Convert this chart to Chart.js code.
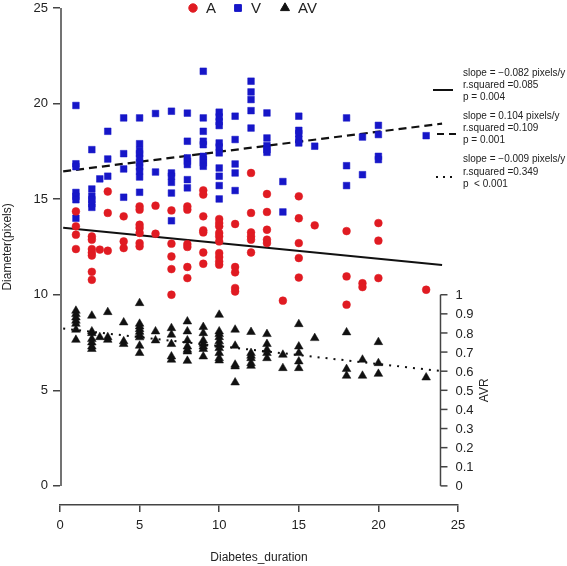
<!DOCTYPE html>
<html>
<head>
<meta charset="utf-8">
<title>Diameter vs diabetes duration</title>
<script src="https://cdn.jsdelivr.net/npm/chart.js@4.4.1/dist/chart.umd.min.js"></script>
<style>
  html, body { margin: 0; padding: 0; background: #fff; }
</style>
</head>
<body>
<canvas id="chart" width="567" height="566"></canvas>
<script>
// Data

// Artery (A) diameters
const aDur = [
  1, 1, 1, 1,
  2, 2, 2, 2, 2, 2, 2,
  2.5,
  3, 3, 3,
  4, 4, 4,
  5, 5, 5, 5, 5, 5, 5,
  6, 6,
  7, 7, 7, 7, 7,
  8, 8, 8, 8, 8, 8,
  9, 9, 9, 9, 9, 9, 9,
  10, 10, 10, 10, 10, 10, 10, 10, 10, 10,
  11, 11, 11, 11, 11,
  12, 12, 12, 12, 12, 12,
  13, 13, 13, 13, 13,
  14,
  15, 15, 15, 15, 15,
  16,
  18, 18, 18,
  19, 19,
  20, 20, 20,
  23
];
const aDiam = [
  14.36, 13.58, 13.14, 12.39,
  13.05, 12.88, 12.39, 12.2, 12.05, 11.2, 10.78,
  12.36,
  15.4, 14.28, 12.3,
  14.1, 12.79, 12.44,
  14.62, 14.45, 13.66, 13.49, 13.23, 12.7, 12.53,
  14.66, 13.19,
  14.41, 12.67, 12.0, 11.34, 10.0,
  14.62, 14.45, 12.65, 12.5, 11.45, 10.87,
  15.46, 15.24, 14.1, 13.37, 13.26, 12.21, 11.62,
  13.96, 13.75, 13.58, 13.23, 13.05, 12.79, 12.18, 11.97, 11.74, 11.57,
  13.7, 11.45, 11.17, 10.35, 10.17,
  16.37, 14.28, 13.26, 13.05, 12.88, 12.21,
  15.27, 14.33, 13.4, 12.88, 12.7,
  9.69,
  15.15, 14.0, 12.7, 11.92, 10.9,
  13.63,
  13.33, 10.96, 9.48,
  10.6, 10.4,
  13.75, 12.83, 10.87,
  10.26
];

// Vein (V) diameters
const vDur = [
  1, 1, 1, 1, 1, 1, 1,
  2, 2, 2, 2, 2, 2,
  2.5,
  3, 3, 3,
  4, 4, 4, 4,
  5, 5, 5, 5, 5, 5, 5, 5, 5, 5,
  6, 6,
  7, 7, 7, 7, 7, 7,
  8, 8, 8, 8, 8, 8, 8,
  9, 9, 9, 9, 9, 9, 9, 9, 9,
  10, 10, 10, 10, 10, 10, 10, 10, 10, 10, 10,
  11, 11, 11, 11, 11,
  12, 12, 12, 12, 12,
  13, 13, 13, 13, 13,
  14, 14,
  15, 15, 15, 15, 15,
  16,
  18, 18, 18,
  19, 19,
  20, 20, 20, 20,
  23
];
const vDiam = [
  19.9, 16.85, 16.7, 15.35, 15.15, 14.97, 14.0,
  17.59, 15.53, 15.15, 14.97, 14.76, 14.57,
  16.06,
  18.55, 17.1, 16.2,
  19.25, 17.38, 16.58, 15.1,
  19.25, 17.9, 17.55, 17.38, 17.16, 16.9, 16.69, 16.46, 16.16, 15.36,
  19.48, 16.42,
  19.6, 16.37, 16.2, 15.88, 15.32, 13.87,
  19.5, 18.03, 17.16, 16.98, 16.81, 16.02, 15.59,
  21.69, 19.25, 18.55, 18.03, 17.85, 17.24, 17.07, 16.9, 16.72,
  19.55, 19.3, 19.05, 18.85, 17.94, 17.73, 17.42, 16.63, 16.2, 15.71, 15.01,
  19.34, 18.12, 16.84, 16.37, 15.45,
  21.17, 20.61, 20.21, 19.63, 18.72,
  19.51, 18.2, 17.8, 17.59, 17.45,
  15.92, 14.33,
  19.34, 18.6, 18.43, 18.12, 17.94,
  17.77,
  19.25, 16.75, 15.71,
  18.25, 16.28,
  18.86, 18.38, 17.24, 17.07,
  18.32
];

// Artery/vein ratio (AV), right-hand AVR axis
const avDur = [
  1, 1, 1, 1, 1, 1, 1,
  2, 2, 2, 2, 2, 2, 2,
  2.5,
  3, 3, 3,
  4, 4, 4,
  5, 5, 5, 5, 5, 5, 5, 5, 5,
  6, 6,
  7, 7, 7, 7, 7,
  8, 8, 8, 8, 8, 8, 8,
  9, 9, 9, 9, 9, 9, 9,
  10, 10, 10, 10, 10, 10, 10, 10, 10, 10,
  11, 11, 11, 11, 11,
  12, 12, 12, 12, 12, 12,
  13, 13, 13, 13, 13,
  14, 14,
  15, 15, 15, 15, 15,
  16,
  18, 18, 18,
  19, 19,
  20, 20, 20,
  23
];
const avRatio = [
  0.916, 0.899, 0.881, 0.864, 0.848, 0.817, 0.764,
  0.890, 0.808, 0.799, 0.768, 0.750, 0.729, 0.716,
  0.778,
  0.909, 0.778, 0.764,
  0.855, 0.756, 0.742,
  0.956, 0.848, 0.834, 0.820, 0.806, 0.791, 0.777, 0.733, 0.695,
  0.808, 0.761,
  0.825, 0.791, 0.742, 0.677, 0.660,
  0.860, 0.808, 0.761, 0.729, 0.712, 0.703, 0.654,
  0.831, 0.799, 0.761, 0.743, 0.729, 0.716, 0.677,
  0.895, 0.808, 0.794, 0.778, 0.756, 0.738, 0.721, 0.695, 0.668, 0.656,
  0.817, 0.733, 0.634, 0.625, 0.541,
  0.805, 0.695, 0.681, 0.668, 0.642, 0.628,
  0.794, 0.742, 0.712, 0.695, 0.668,
  0.686, 0.616,
  0.846, 0.729, 0.695, 0.651, 0.616,
  0.773,
  0.803, 0.611, 0.576,
  0.660, 0.576,
  0.752, 0.642, 0.586,
  0.567
];

// Regression lines (end points)
const fitDur = [0.2, 24];
const fitA = [13.5, 11.55];
const fitV = [16.45, 18.95];
const fitAV = [0.823, 0.600];

const fitStats = [
  ['slope = \u22120.082 pixels/y', 'r.squared =0.085', 'p = 0.004'],
  ['slope = 0.104 pixels/y', 'r.squared =0.109', 'p = 0.001'],
  ['slope = \u22120.009 pixels/y', 'r.squared =0.349', 'p  < 0.001']
];

const xTicks = [0, 5, 10, 15, 20, 25];
const yTicks = [0, 5, 10, 15, 20, 25];
const avrTicks = [0, 0.1, 0.2, 0.3, 0.4, 0.5, 0.6, 0.7, 0.8, 0.9, 1];
const avrLabels = ['0', '0.1', '0.2', '0.3', '0.4', '0.5', '0.6', '0.7', '0.8', '0.9', '1'];

const seriesNames = ['A', 'V', 'AV'];

// Styles
const red = '#e01b22';
const blue = '#1616c8';
const black = '#111111';
const axisColor = '#444444';
const textColor = '#222222';
const fontFamily = "'Liberation Sans', Arial, Helvetica, sans-serif";

Chart.defaults.font.family = fontFamily;

const pts = (xs, ys) => xs.map((v, i) => ({ x: v, y: ys[i] }));

// Extra drawing: R style axes pieces, top legend, fit legend
const extras = {
  id: 'extras',
  afterDraw(chart) {
    const { ctx, chartArea, scales: { x, y, y2 } } = chart;
    ctx.save();

    // left axis line only spans 0..25
    ctx.strokeStyle = axisColor;
    ctx.lineWidth = 1.5;
    ctx.beginPath();
    ctx.moveTo(chartArea.left + 1, y.getPixelForValue(0));
    ctx.lineTo(chartArea.left + 1, y.getPixelForValue(25));
    ctx.stroke();

    // y title, centred on the 0..25 range
    ctx.save();
    ctx.fillStyle = textColor;
    ctx.font = '12px ' + fontFamily;
    ctx.textAlign = 'center';
    ctx.textBaseline = 'middle';
    ctx.translate(8, y.getPixelForValue(12.5));
    ctx.rotate(-Math.PI / 2);
    ctx.fillText('Diameter(pixels)', 0, 0);
    ctx.restore();

    // AVR axis inside the plot
    const ax = x.getPixelForValue(23.9);
    ctx.beginPath();
    ctx.moveTo(ax, y2.getPixelForValue(0));
    ctx.lineTo(ax, y2.getPixelForValue(1));
    ctx.stroke();
    ctx.fillStyle = textColor;
    ctx.font = '13px ' + fontFamily;
    ctx.textAlign = 'left';
    ctx.textBaseline = 'middle';
    avrTicks.forEach((v, i) => {
      const py = y2.getPixelForValue(v);
      ctx.beginPath();
      ctx.moveTo(ax, py);
      ctx.lineTo(ax + 7, py);
      ctx.stroke();
      ctx.fillText(avrLabels[i], ax + 15, py + 1);
    });
    ctx.save();
    ctx.translate(ax + 44, y2.getPixelForValue(0.5));
    ctx.rotate(-Math.PI / 2);
    ctx.textAlign = 'center';
    ctx.font = '12px ' + fontFamily;
    ctx.fillText('AVR', 0, 0);
    ctx.restore();

    // top legend
    const markers = [
      { style: 'circle', color: red, r: 4.2, x: 193 },
      { style: 'rect', color: blue, r: 4.8, x: 238 },
      { style: 'triangle', color: black, r: 5.2, x: 285 }
    ];
    ctx.font = '15px ' + fontFamily;
    markers.forEach((m, i) => {
      ctx.fillStyle = m.color;
      ctx.strokeStyle = m.color;
      ctx.lineWidth = 1;
      Chart.helpers.drawPoint(ctx, { pointStyle: m.style, radius: m.r, borderWidth: 1, rotation: 0 }, m.x, 8);
      ctx.fillStyle = textColor;
      ctx.fillText(seriesNames[i], m.x + 13, 9);
    });

    // fit legend
    ctx.font = '10px ' + fontFamily;
    ctx.fillStyle = textColor;
    const rowY = [[73, 85, 97], [116, 128, 140], [159, 172, 184]];
    fitStats.forEach((lines, g) => {
      lines.forEach((t, k) => ctx.fillText(t, 463, rowY[g][k]));
    });
    ctx.strokeStyle = black;
    ctx.lineWidth = 2;
    ctx.setLineDash([]);
    ctx.beginPath(); ctx.moveTo(433, 90); ctx.lineTo(453, 90); ctx.stroke();
    ctx.setLineDash([7, 5]);
    ctx.beginPath(); ctx.moveTo(437, 134); ctx.lineTo(456, 134); ctx.stroke();
    ctx.setLineDash([2, 5]);
    ctx.beginPath(); ctx.moveTo(436, 177); ctx.lineTo(453, 177); ctx.stroke();

    ctx.restore();
  }
};

new Chart(document.getElementById('chart'), {
  type: 'scatter',
  data: {
    datasets: [
      {
        label: 'A', data: pts(aDur, aDiam), yAxisID: 'y',
        pointStyle: 'circle', pointRadius: 3.9,
        backgroundColor: red, borderColor: red, borderWidth: 0.5
      },
      {
        label: 'V', data: pts(vDur, vDiam), yAxisID: 'y',
        pointStyle: 'rect', pointRadius: 4.7,
        backgroundColor: blue, borderColor: blue, borderWidth: 0.5
      },
      {
        label: 'AV', data: pts(avDur, avRatio), yAxisID: 'y2',
        pointStyle: 'triangle', pointRadius: 5,
        backgroundColor: black, borderColor: black, borderWidth: 0.5
      },
      {
        type: 'line', label: 'fit A', data: pts(fitDur, fitA), yAxisID: 'y',
        borderColor: black, borderWidth: 2, pointRadius: 0, fill: false
      },
      {
        type: 'line', label: 'fit V', data: pts(fitDur, fitV), yAxisID: 'y',
        borderColor: black, borderWidth: 2.2, borderDash: [8, 5], pointRadius: 0, fill: false
      },
      {
        type: 'line', label: 'fit AV', data: pts(fitDur, fitAV), yAxisID: 'y2',
        borderColor: black, borderWidth: 2, borderDash: [2, 6], pointRadius: 0, fill: false
      }
    ]
  },
  options: {
    responsive: false,
    animation: false,
    layout: { padding: { top: 8, right: 109, bottom: 0, left: 0 } },
    plugins: {
      legend: { display: false },
      tooltip: { enabled: false }
    },
    scales: {
      x: {
        type: 'linear', min: 0, max: 25,
        afterBuildTicks: s => { s.ticks = xTicks.map(v => ({ value: v })); },
        afterFit: s => { s.height = 61; },
        border: { display: true, color: axisColor, width: 1.5 },
        grid: { drawOnChartArea: false, drawTicks: true, tickLength: 7, color: axisColor, lineWidth: 1.5 },
        ticks: { padding: 6, color: textColor, font: { size: 13 } },
        title: {
          display: true, text: 'Diabetes_duration', color: textColor,
          font: { size: 12 }, padding: { top: 14, bottom: 1 }
        }
      },
      y: {
        type: 'linear', min: -1, max: 25,
        afterBuildTicks: s => { s.ticks = yTicks.map(v => ({ value: v })); },
        afterFit: s => { s.width = 60; s.paddingTop = 0; s.paddingBottom = 0; },
        border: { display: false },
        grid: { drawOnChartArea: false, drawTicks: true, tickLength: 7, color: axisColor, lineWidth: 1.5 },
        ticks: { padding: 5, color: textColor, font: { size: 13 } },
        title: { display: false }
      },
      y2: {
        type: 'linear', min: -0.1, max: 2.5, display: false
      }
    }
  },
  plugins: [extras]
});
</script>
</body>
</html>
